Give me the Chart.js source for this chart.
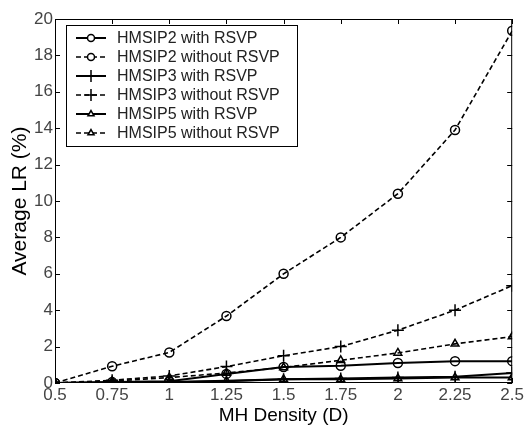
<!DOCTYPE html>
<html><head><meta charset="utf-8">
<script src="https://cdn.jsdelivr.net/npm/chart.js@4.4.1/dist/chart.umd.min.js"></script>
<style>html,body{margin:0;padding:0;background:#fff;}#wrap{width:526px;height:427px;}</style>
</head><body><div id="wrap"><canvas id="c" width="526" height="427"></canvas></div>
<script>
const density = [0.5, 0.75, 1, 1.25, 1.5, 1.75, 2, 2.25, 2.5];
const xTicks = [0.5, 0.75, 1, 1.25, 1.5, 1.75, 2, 2.25, 2.5];
const yTicks = [0, 2, 4, 6, 8, 10, 12, 14, 16, 18, 20];
const hmsip2With    = [0, 0.05, 0.1, 0.5, 0.88, 0.95, 1.1, 1.2, 1.2];
const hmsip2Without = [0, 0.92, 1.68, 3.68, 6.0, 8.0, 10.4, 13.9, 19.35];
const hmsip3With    = [0, 0.03, 0.06, 0.12, 0.2, 0.25, 0.3, 0.35, 0.55];
const hmsip3Without = [0, 0.15, 0.39, 0.9, 1.5, 2.0, 2.9, 4.0, 5.35];
const hmsip5With    = [0, 0.02, 0.04, 0.1, 0.2, 0.2, 0.25, 0.3, 0.3];
const hmsip5Without = [0, 0.1, 0.3, 0.55, 0.85, 1.25, 1.65, 2.15, 2.55];
const names = ["HMSIP2 with RSVP","HMSIP2 without RSVP","HMSIP3 with RSVP","HMSIP3 without RSVP","HMSIP5 with RSVP","HMSIP5 without RSVP"];
const series = [hmsip2With, hmsip2Without, hmsip3With, hmsip3Without, hmsip5With, hmsip5Without];
const styles = ['circle','circle','cross','cross','triangle','triangle'];

const datasets = series.map((s, i) => {
  const dashed = i % 2 === 1;
  return {
    label: names[i],
    data: density.map((x, j) => ({x, y: s[j]})),
    showLine: true,
    borderColor: '#000',
    backgroundColor: 'rgba(255,255,255,0)',
    borderWidth: dashed ? 1.6 : 2,
    borderDash: dashed ? [5, 3] : [],
    pointStyle: styles[i],
    pointRadius: styles[i] === 'cross' ? 6 : 4.5,
    pointBorderWidth: 1.5,
    pointBorderColor: '#000',
    pointBackgroundColor: 'rgba(255,255,255,0)'
  };
});

const boxPlugin = {
  id: 'box',
  afterDatasetsDraw(chart) {
    const {ctx, chartArea: a, scales: {x, y}} = chart;
    ctx.save();
    ctx.strokeStyle = '#000';
    ctx.lineWidth = 1;
    ctx.setLineDash([]);
    ctx.strokeRect(a.left + 0.5, a.top + 0.5, a.right - a.left - 1, a.bottom - a.top - 1);
    const t = 5;
    ctx.beginPath();
    xTicks.forEach(v => {
      const px = Math.round(x.getPixelForValue(v)) + 0.5;
      ctx.moveTo(px, a.bottom); ctx.lineTo(px, a.bottom - t);
      ctx.moveTo(px, a.top); ctx.lineTo(px, a.top + t);
    });
    yTicks.forEach(v => {
      const py = Math.round(y.getPixelForValue(v)) + 0.5;
      ctx.moveTo(a.left, py); ctx.lineTo(a.left + t, py);
      ctx.moveTo(a.right, py); ctx.lineTo(a.right - t, py);
    });
    ctx.stroke();
    // legend
    const lx = a.left + 11, ly = a.top + 6, lw = 231, lh = 121;
    ctx.fillStyle = '#fff';
    ctx.fillRect(lx, ly, lw, lh);
    ctx.strokeRect(lx + 0.5, ly + 0.5, lw, lh);
    ctx.font = '16px "Liberation Sans", Arial, sans-serif';
    ctx.textBaseline = 'middle';
    datasets.forEach((d, i) => {
      const cy = ly + 13 + i * 19;
      ctx.strokeStyle = '#000';
      ctx.lineWidth = d.borderWidth;
      ctx.setLineDash(d.borderDash);
      ctx.beginPath();
      ctx.moveTo(lx + 10, cy); ctx.lineTo(lx + 40, cy);
      ctx.stroke();
      ctx.setLineDash([]);
      ctx.lineWidth = 1.5;
      ctx.fillStyle = '#fff';
      Chart.helpers.drawPoint(ctx, {pointStyle: d.pointStyle, radius: d.pointStyle === 'cross' ? 6 : 3.5, borderWidth: 1.5}, lx + 25, cy);
      ctx.fillStyle = '#222';
      ctx.fillText(d.label, lx + 51, cy + 1);
    });
    ctx.restore();
  }
};

new Chart(document.getElementById('c'), {
  type: 'scatter',
  data: { datasets },
  options: {
    responsive: false,
    animation: false,
    layout: { padding: { left: 0, top: 19, right: 10, bottom: 0 } },
    plugins: { legend: { display: false }, tooltip: { enabled: false } },
    scales: {
      x: {
        type: 'linear', min: 0.5, max: 2.5,
        afterBuildTicks: s => { s.ticks = xTicks.map(v => ({value: v})); },
        afterFit: s => { s.height = 44; },
        grid: { display: false, drawTicks: false },
        border: { display: false },
        ticks: { color: '#444', font: { family: '"Liberation Sans", Arial, sans-serif', size: 17 }, padding: 2, maxRotation: 0, autoSkip: false,
          callback: v => String(v) },
        title: { display: true, text: 'MH Density (D)', color: '#000', font: { family: '"Liberation Sans", Arial, sans-serif', size: 19 }, padding: { top: 0, bottom: 0 } }
      },
      y: {
        min: 0, max: 20,
        afterBuildTicks: s => { s.ticks = yTicks.map(v => ({value: v})); },
        afterFit: s => { s.width = 55; },
        grid: { display: false, drawTicks: false },
        border: { display: false },
        ticks: { color: '#444', font: { family: '"Liberation Sans", Arial, sans-serif', size: 17 }, padding: 2 },
        title: { display: true, text: 'Average LR (%)', color: '#000', font: { family: '"Liberation Sans", Arial, sans-serif', size: 21 }, padding: { top: 8, bottom: 0 } }
      }
    }
  },
  plugins: [boxPlugin]
});
</script>
</body></html>
